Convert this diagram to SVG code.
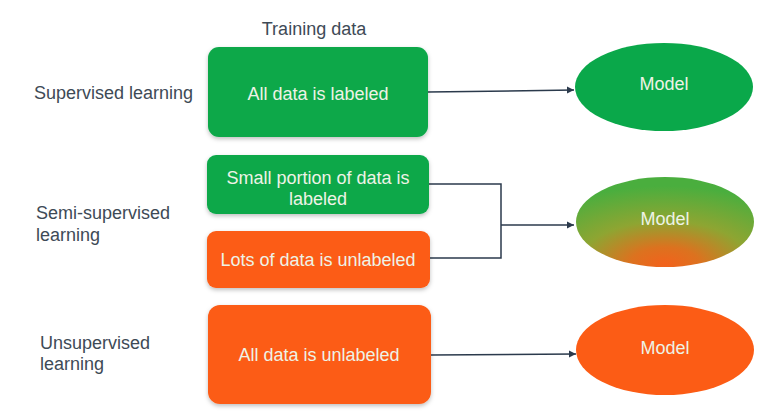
<svg xmlns="http://www.w3.org/2000/svg" width="778" height="418" viewBox="0 0 778 418">
<style>
.lbl{font-family:"Liberation Sans","DejaVu Sans",sans-serif;font-size:18px;fill:#3e4a56}
.in{font-family:"Liberation Sans","DejaVu Sans",sans-serif;font-size:18px;fill:#eef3e6;text-anchor:middle}
.g{fill:#0aa84a}
.o{fill:#fc5c15}
.c{fill:none;stroke:#2b3a4c;stroke-width:1.5}
</style>
<defs>
<filter id="sh" x="-10%" y="-10%" width="120%" height="130%">
<feDropShadow dx="0" dy="2" stdDeviation="2" flood-color="#000" flood-opacity="0.25"/>
</filter>
<marker id="ah" markerWidth="8" markerHeight="8" refX="7" refY="4" orient="auto" markerUnits="userSpaceOnUse">
<path d="M0,0.5 L7,4 L0,7.5 Z" fill="#2b3a4c"/>
</marker>
<radialGradient id="mix" cx="0.5" cy="1" r="0.9" fx="0.5" fy="0.97">
<stop offset="0" stop-color="#f2621c"/>
<stop offset="0.22" stop-color="#dc721f"/>
<stop offset="0.55" stop-color="#8ea532"/>
<stop offset="1" stop-color="#4aae3e"/>
</radialGradient>
</defs>
<rect width="778" height="418" fill="#ffffff"/>
<text class="lbl" x="314" y="35" text-anchor="middle">Training data</text>
<text class="lbl" x="34" y="99">Supervised learning</text>
<text class="lbl" x="36" y="219">Semi-supervised</text>
<text class="lbl" x="36" y="241">learning</text>
<text class="lbl" x="40" y="349">Unsupervised</text>
<text class="lbl" x="40" y="370">learning</text>
<g id="connectors">
<path class="c" d="M428,92 L574,90" marker-end="url(#ah)"/>
<path class="c" d="M429,184 H501 V258 H430"/>
<path class="c" d="M501,225 H574" marker-end="url(#ah)"/>
<path class="c" d="M431,355 L576,354" marker-end="url(#ah)"/>
</g>
<g id="box1"><rect class="g" x="208" y="47" width="220" height="90" rx="11" filter="url(#sh)"/><text class="in" x="318" y="100">All data is labeled</text></g>
<g id="box2"><rect class="g" x="207" y="155" width="222" height="59" rx="9" filter="url(#sh)"/><text class="in" x="318" y="184">Small portion of data is</text><text class="in" x="318" y="205">labeled</text></g>
<g id="box3"><rect class="o" x="207" y="231" width="223" height="57" rx="9" filter="url(#sh)"/><text class="in" x="318" y="266">Lots of data is unlabeled</text></g>
<g id="box4"><rect class="o" x="208" y="305" width="223" height="99" rx="12" filter="url(#sh)"/><text class="in" x="319" y="361">All data is unlabeled</text></g>
<g id="model1"><ellipse class="g" cx="664" cy="87" rx="89" ry="44"/><text class="in" x="664" y="90">Model</text></g>
<g id="model2"><ellipse cx="665" cy="222" rx="89" ry="45" fill="url(#mix)"/><text class="in" x="665" y="225">Model</text></g>
<g id="model3"><ellipse class="o" cx="665" cy="350" rx="89" ry="45"/><text class="in" x="665" y="354">Model</text></g>
</svg>
